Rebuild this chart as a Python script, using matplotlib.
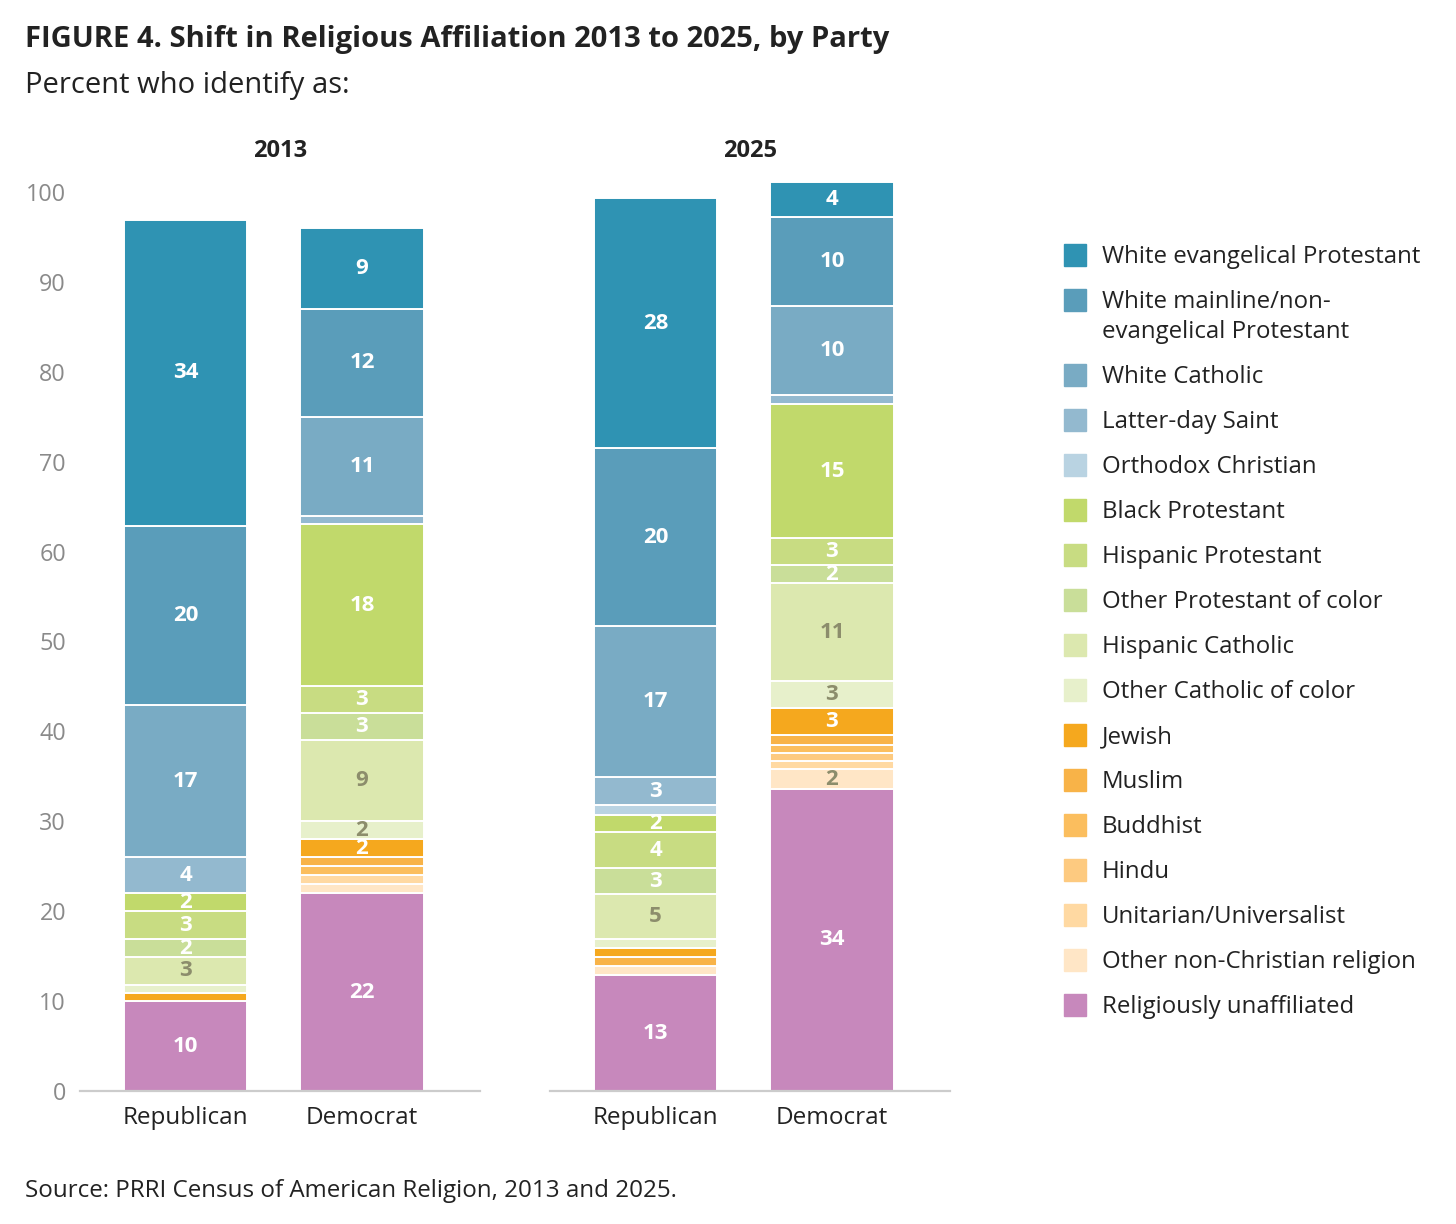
import matplotlib
matplotlib.use('Agg')
import matplotlib.pyplot as plt
from matplotlib.patches import Rectangle

plt.rcParams['font.family'] = ['Open Sans', 'DejaVu Sans']

# ── Data (legend order, top of stack first) ──────────────────────────────
categories = [
    'White evangelical Protestant',
    'White mainline/non-\nevangelical Protestant',
    'White Catholic',
    'Latter-day Saint',
    'Orthodox Christian',
    'Black Protestant',
    'Hispanic Protestant',
    'Other Protestant of color',
    'Hispanic Catholic',
    'Other Catholic of color',
    'Jewish',
    'Muslim',
    'Buddhist',
    'Hindu',
    'Unitarian/Universalist',
    'Other non-Christian religion',
    'Religiously unaffiliated',
]
parties = ['Republican', 'Democrat']
years = ['2013', '2025']

rep_2013 = [34.0, 20.0, 16.9, 4.0, 0, 2.0, 3.1, 2.0, 3.1, 0.9, 0.9, 0, 0, 0, 0, 0, 10.0]
dem_2013 = [9.0, 12.0, 11.0, 0.9, 0, 18.1, 3.0, 3.0, 9.0, 2.0, 2.0, 1.0, 1.0, 0, 1.0, 1.0, 22.0]
rep_2025 = [27.8, 19.8, 16.8, 3.1, 1.1, 1.9, 4.0, 2.9, 5.0, 1.0, 1.0, 1.0, 0, 0, 0, 1.0, 12.9]
dem_2025 = [3.9, 9.9, 9.9, 1.0, 0, 14.9, 3.0, 2.0, 10.9, 3.0, 3.0, 1.1, 0.9, 0.9, 0.9, 2.2, 33.6]

colors = [
    '#2F93B3', '#5A9DBA', '#79ABC4', '#93B9CF', '#B9D3E2',
    '#C1D96B', '#C8DC82', '#C9DE99', '#DCE8AF', '#E7F0CB',
    '#F5A81E', '#F8B348', '#FBBE5E', '#FDCA80', '#FFD9A2', '#FFE6C6',
    '#C788BC',
]
GRAY_LABEL = '#8C8D6C'
label_colors = ['white'] * 8 + [GRAY_LABEL, GRAY_LABEL] + ['white'] * 5 + [GRAY_LABEL, 'white']

panels = {'2013': [rep_2013, dem_2013], '2025': [rep_2025, dem_2025]}

# ── Figure ───────────────────────────────────────────────────────────────
W, H = 1456, 1224
fig = plt.figure(figsize=(W / 100, H / 100), dpi=100)

px_per_unit = 8.99
ymax = 103
ax_bottom = (H - 1091) / H
ax_height = ymax * px_per_unit / H
ax_lefts = [80, 550]
ax_width = 400

for i, year in enumerate(years):
    ax = fig.add_axes([ax_lefts[i] / W, ax_bottom, ax_width / W, ax_height])
    for j, vals in enumerate(panels[year]):
        bottom = 0
        # stack from the bottom of the legend upwards
        for k in reversed(range(len(categories))):
            v = vals[k]
            if v <= 0:
                continue
            ax.bar(j, v, width=0.7, bottom=bottom, color=colors[k],
                   edgecolor='white', linewidth=1.4)
            if round(v) >= 2:
                ax.text(j, bottom + v / 2, f'{round(v)}', ha='center', va='center',
                        color=label_colors[k], fontsize=16, fontweight='bold')
            bottom += v

    ax.set_xlim(-0.6, 1.67)
    ax.set_ylim(0, ymax)
    ax.set_xticks(range(len(parties)))
    ax.set_xticklabels(parties, fontsize=17.5, color='#222222')
    ax.tick_params(axis='x', length=0, pad=11)
    for s in ['top', 'right', 'left']:
        ax.spines[s].set_visible(False)
    ax.spines['bottom'].set_color('#CCCCCC')
    ax.spines['bottom'].set_linewidth(1.6)
    if i == 0:
        ax.set_yticks(range(0, 101, 10))
        ax.tick_params(axis='y', length=0, pad=10, labelsize=16.8, labelcolor='#8A8A8A')
    else:
        ax.set_yticks([])

    # panel year heading
    fig.text((ax_lefts[i] + ax_width / 2) / W, 1 - 151 / H, year, fontsize=17,
             fontweight='bold', color='#222222', ha='center', va='center')

# ── Legend (drawn by hand for exact spacing) ─────────────────────────────
y = 255
for k, name in enumerate(categories):
    lines = name.split('\n')
    fig.patches.append(Rectangle((1064 / W, 1 - (y + 11) / H), 22 / W, 22 / H,
                                 transform=fig.transFigure, color=colors[k]))
    for n, line in enumerate(lines):
        fig.text(1102 / W, 1 - (y + 2 + 30 * n) / H, line, fontsize=17.3, color='#222222',
                 ha='left', va='center', transform=fig.transFigure)
    y += 45 + (len(lines) - 1) * 30

# ── Titles / source ──────────────────────────────────────────────────────
fig.text(25 / W, 1 - 39 / H, 'FIGURE 4. Shift in Religious Affiliation 2013 to 2025, by Party',
         fontsize=21, fontweight='bold', color='#222222', va='center')
fig.text(25 / W, 1 - 86 / H, 'Percent who identify as:', fontsize=21,
         color='#222222', va='center')
fig.text(25 / W, 1 - 1191 / H, 'Source: PRRI Census of American Religion, 2013 and 2025.',
         fontsize=17.4, color='#222222', va='center')

fig.savefig('out.png', dpi=100)
